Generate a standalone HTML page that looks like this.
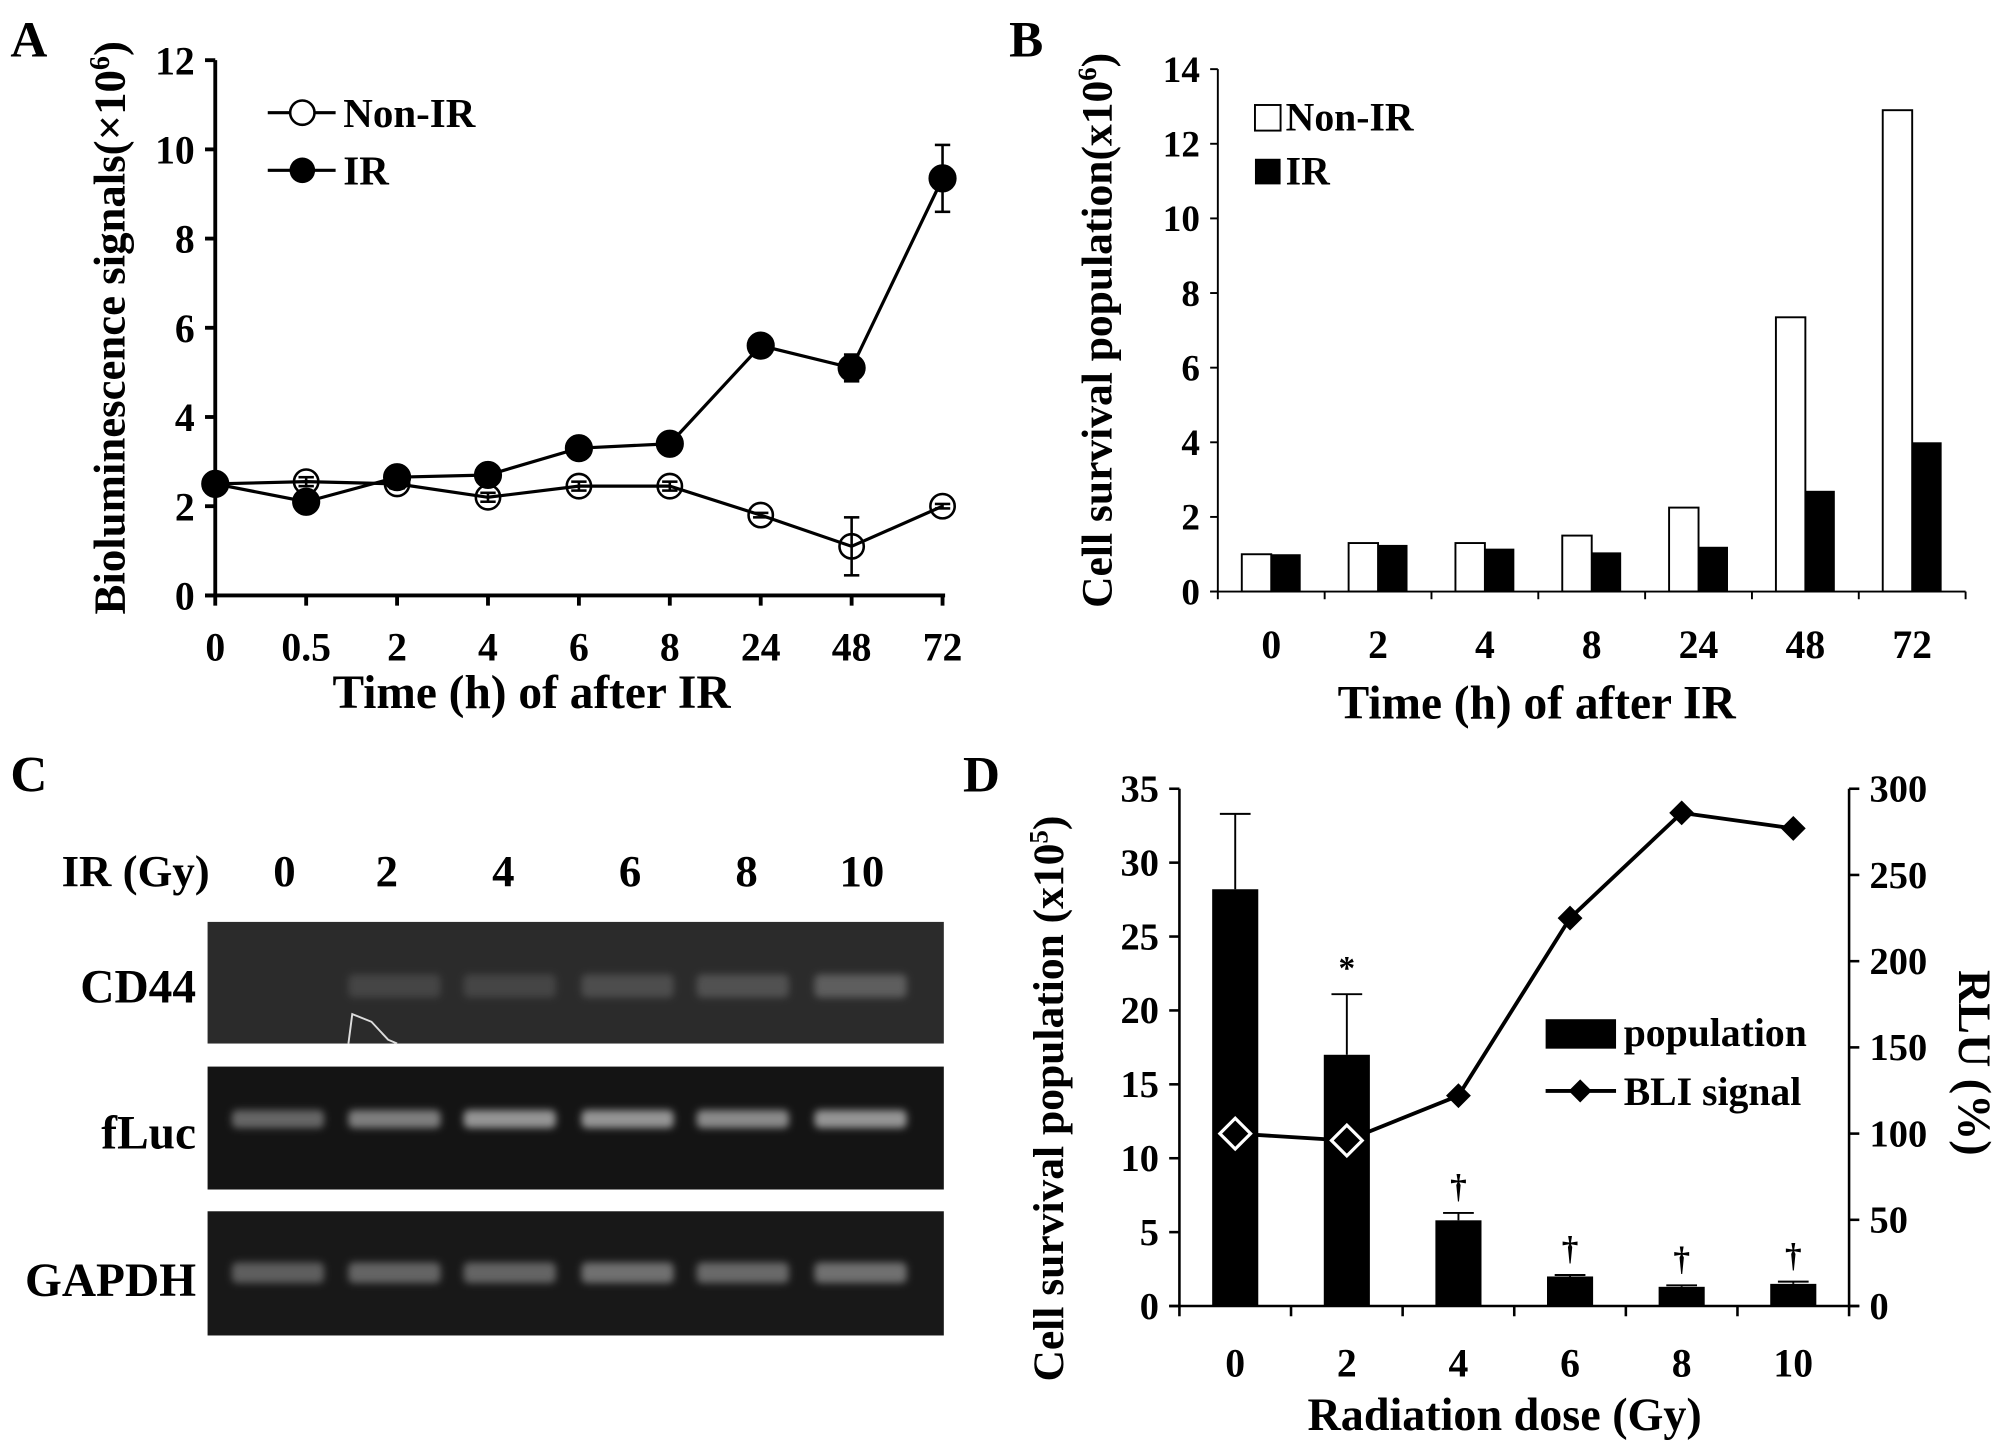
<!DOCTYPE html>
<html><head><meta charset="utf-8"><style>
html,body{margin:0;padding:0;background:#fff}
svg{display:block}
text{font-family:"Liberation Serif",serif;font-weight:bold;fill:#000}
</style></head><body>
<svg id="fig" width="2008" height="1452" viewBox="0 0 1568 1134" xmlns="http://www.w3.org/2000/svg">
<defs>
<filter id="blur" x="-30%" y="-80%" width="160%" height="260%"><feGaussianBlur stdDeviation="3"/></filter>
</defs>
<text x="8" y="44" font-size="40">A</text>
<text x="788" y="44" font-size="40">B</text>
<text x="8" y="618" font-size="40">C</text>
<text x="752" y="618" font-size="40">D</text>

<g>
<text x="48" y="692" font-size="35">IR (Gy)</text>
<text x="222" y="692" font-size="35" text-anchor="middle">0</text>
<text x="302" y="692" font-size="35" text-anchor="middle">2</text>
<text x="393" y="692" font-size="35" text-anchor="middle">4</text>
<text x="492" y="692" font-size="35" text-anchor="middle">6</text>
<text x="583" y="692" font-size="35" text-anchor="middle">8</text>
<text x="673" y="692" font-size="35" text-anchor="middle">10</text>
<text x="153" y="783" font-size="37" text-anchor="end">CD44</text>
<text x="153" y="897" font-size="37" text-anchor="end">fLuc</text>
<text x="153" y="1012" font-size="37" text-anchor="end">GAPDH</text>
<rect x="162" y="720" width="575" height="95" fill="#2b2b2b"/>
<rect x="162" y="833" width="575" height="96" fill="#141414"/>
<rect x="162" y="946" width="575" height="97" fill="#181818"/>
<g id="bands"></g>
</g>

<g id="chartA"></g>
<g id="chartB"></g>
<g id="chartD"></g>
</svg>
<script>
const NS="http://www.w3.org/2000/svg";
function mk(parent,tag,attrs){const e=document.createElementNS(NS,tag);for(const k in attrs)e.setAttribute(k,attrs[k]);parent.appendChild(e);return e;}
function txt(parent,x,y,s,size,anchor){const e=mk(parent,'text',{x:x,y:y,'font-size':size,'text-anchor':anchor||'middle'});e.textContent=s;return e;}

const aCategories=["0","0.5","2","4","6","8","24","48","72"];
const aNonIR=[2.5,2.55,2.5,2.2,2.45,2.45,1.8,1.1,2.0];
const aNonIRErr=[0.1,0.1,0.1,0.1,0.1,0.1,0.05,0.65,0.05];
const aIR=[2.5,2.1,2.65,2.7,3.3,3.4,5.6,5.1,9.35];
const aIRErr=[0,0,0,0,0,0,0,0.3,0.75];
const aYTicks=[0,2,4,6,8,10,12];

const bCategories=["0","2","4","8","24","48","72"];
const bNonIR=[1.0,1.3,1.3,1.5,2.25,7.35,12.9];
const bIR=[1.0,1.25,1.15,1.05,1.2,2.7,4.0];
const bYTicks=[0,2,4,6,8,10,12,14];

const cLanes=["0","2","4","6","8","10"];
const cCD44=[0.0,0.12,0.12,0.16,0.18,0.24];
const cFLuc=[0.35,0.45,0.55,0.55,0.5,0.55];
const cGAPDH=[0.3,0.33,0.33,0.38,0.35,0.38];

const dCategories=["0","2","4","6","8","10"];
const dPopulation=[28.2,17.0,5.8,2.0,1.3,1.5];
const dPopErr=[5.1,4.1,0.5,0.1,0.1,0.15];
const dBLI=[100,96,122,225,286,277];
const dMarks=["","*","†","†","†","†"];
const dLeftTicks=[0,5,10,15,20,25,30,35];
const dRightTicks=[0,50,100,150,200,250,300];

(function(){
const g=document.getElementById('chartA');
const x0=168,dx=71,y0=465,yTop=47,yMax=12;
const X=i=>x0+i*dx, Y=v=>y0-(y0-yTop)*v/yMax;
const ax=mk(g,'line',{x1:x0,y1:yTop,x2:x0,y2:y0,stroke:'#000','stroke-width':3});


const xa=mk(g,'line',{x1:x0-8,y1:y0,x2:X(8)+2,y2:y0,stroke:'#000','stroke-width':3});


aYTicks.forEach(v=>{
  mk(g,'line',{x1:x0-8,y1:Y(v),x2:x0,y2:Y(v),stroke:'#000','stroke-width':3});
  const t=txt(g,x0-16,Y(v)+11,String(v),31,'end');
  
  
});
aCategories.forEach((c,i)=>{
  mk(g,'line',{x1:X(i),y1:y0,x2:X(i),y2:y0+8,stroke:'#000','stroke-width':3});
  const t=txt(g,X(i),y0+51,c,31);
  
  
});
const xt=txt(g,415,553,"Time (h) of after IR",37);


const yt=txt(g,0,0,"Bioluminescence signals(×10",35);
const sup=document.createElementNS(NS,'tspan');sup.setAttribute('font-size','22');sup.setAttribute('dy','-12');sup.textContent='6';yt.appendChild(sup);
const cl=document.createElementNS(NS,'tspan');cl.setAttribute('dy','12');cl.textContent=')';yt.appendChild(cl);
yt.setAttribute('transform','translate(97,256) rotate(-90)');


function series(vals,errs,filled,name){
  const pts=vals.map((v,i)=>X(i)+','+Y(v)).join(' ');
  const l=mk(g,'polyline',{points:pts,fill:'none',stroke:'#000','stroke-width':2.5});
  
  
  vals.forEach((v,i)=>{
    if(errs[i]>0){mk(g,'line',{x1:X(i),y1:Y(v-errs[i]),x2:X(i),y2:Y(v+errs[i]),stroke:'#000','stroke-width':2});
      mk(g,'line',{x1:X(i)-6,y1:Y(v-errs[i]),x2:X(i)+6,y2:Y(v-errs[i]),stroke:'#000','stroke-width':2});
      mk(g,'line',{x1:X(i)-6,y1:Y(v+errs[i]),x2:X(i)+6,y2:Y(v+errs[i]),stroke:'#000','stroke-width':2});}
  });
  vals.forEach((v,i)=>{
    const c=mk(g,'circle',{cx:X(i),cy:Y(v),r:filled?10:9.5,fill:filled?'#000':'none',stroke:'#000','stroke-width':2});
    
    
  });
}
series(aNonIR,aNonIRErr,false,'a-non-ir');
series(aIR,aIRErr,true,'a-ir');
const l1=mk(g,'g',{});


mk(l1,'line',{x1:209,y1:88,x2:262,y2:88,stroke:'#000','stroke-width':2.5});
mk(l1,'circle',{cx:236,cy:88,r:9.5,fill:'#fff',stroke:'#000','stroke-width':2});
txt(l1,268,99,"Non-IR",32,'start');
const l2=mk(g,'g',{});


mk(l2,'line',{x1:209,y1:133,x2:262,y2:133,stroke:'#000','stroke-width':2.5});
mk(l2,'circle',{cx:236,cy:133,r:10,fill:'#000'});
txt(l2,268,144,"IR",32,'start');
})();

(function(){
const g=document.getElementById('chartB');
const x0=951,xEnd=1535,y0=462,yTop=54,yMax=14,n=bCategories.length;
const dx=(xEnd-x0)/n;
const C=i=>x0+dx*(i+0.5), Y=v=>y0-(y0-yTop)*v/yMax;
const bw=23;
bCategories.forEach((c,i)=>{
  const r1=mk(g,'rect',{x:C(i)-bw,y:Y(bNonIR[i]),width:bw,height:y0-Y(bNonIR[i]),fill:'#fff',stroke:'#000','stroke-width':1.5});
  
  
  const r2=mk(g,'rect',{x:C(i),y:Y(bIR[i]),width:bw,height:y0-Y(bIR[i]),fill:'#000'});
  
  
  const t=txt(g,C(i),y0+52,c,31);
  
  
});
const ax=mk(g,'line',{x1:x0,y1:yTop,x2:x0,y2:y0,stroke:'#000','stroke-width':1.5});


const xa=mk(g,'line',{x1:x0-6,y1:y0,x2:xEnd,y2:y0,stroke:'#000','stroke-width':1.5});


bYTicks.forEach(v=>{
  mk(g,'line',{x1:x0-6,y1:Y(v),x2:x0,y2:Y(v),stroke:'#000','stroke-width':1.5});
  const t=txt(g,x0-14,Y(v)+10,String(v),29,'end');
  
  
});
for(let i=0;i<=n;i++)mk(g,'line',{x1:x0+dx*i,y1:y0,x2:x0+dx*i,y2:y0+6,stroke:'#000','stroke-width':1.5});
const xt=txt(g,1200,561,"Time (h) of after IR",37);


const yt=txt(g,0,0,"Cell survival population(x10",34);
const sup=document.createElementNS(NS,'tspan');sup.setAttribute('font-size','21');sup.setAttribute('dy','-12');sup.textContent='6';yt.appendChild(sup);
const cl=document.createElementNS(NS,'tspan');cl.setAttribute('dy','12');cl.textContent=')';yt.appendChild(cl);
yt.setAttribute('transform','translate(868,258) rotate(-90)');


const l1=mk(g,'g',{});


mk(l1,'rect',{x:980,y:82,width:20,height:20,fill:'#fff',stroke:'#000','stroke-width':1.5});
txt(l1,1004,102,"Non-IR",31,'start');
const l2=mk(g,'g',{});


mk(l2,'rect',{x:980,y:124,width:20,height:20,fill:'#000'});
txt(l2,1004,144,"IR",31,'start');
})();

(function(){
const g=document.getElementById('bands');
const centers=[217,308,398,490,580,672];
const rows=[[cCD44,770,'cd44',18],[cFLuc,874,'fluc',14],[cGAPDH,994,'gapdh',16]];
rows.forEach(r=>{
  r[0].forEach((v,i)=>{
    const cx=centers[i];
    const b=mk(g,'rect',{x:cx-36,y:r[1]-r[3]/2,width:72,height:r[3],rx:4,fill:'#fff','fill-opacity':v,filter:'url(#blur)'});
    
    
  });
});
const s=mk(g,'path',{d:'M272 815 L275 792 L290 798 L303 812 L310 815',fill:'none',stroke:'#ddd','stroke-width':1.5});


})();

(function(){
const g=document.getElementById('chartD');
const x0=921,xEnd=1444,y0=1020,yTop=616,lMax=35,rMax=300,n=dCategories.length;
const dx=(xEnd-x0)/n;
const C=i=>x0+dx*(i+0.5), YL=v=>y0-(y0-yTop)*v/lMax, YR=v=>y0-(y0-yTop)*v/rMax;
const bw=36;
dCategories.forEach((c,i)=>{
  const top=YL(dPopulation[i]+dPopErr[i]);
  mk(g,'line',{x1:C(i),y1:YL(dPopulation[i]),x2:C(i),y2:top,stroke:'#000','stroke-width':1.5});
  mk(g,'line',{x1:C(i)-12,y1:top,x2:C(i)+12,y2:top,stroke:'#000','stroke-width':1.5});
  const r=mk(g,'rect',{x:C(i)-bw/2,y:YL(dPopulation[i]),width:bw,height:y0-YL(dPopulation[i]),fill:'#000'});
  
  
  if(dMarks[i]){const m=txt(g,C(i),top-12,dMarks[i],26);
    
    }
  const t=txt(g,C(i),y0+55,c,31);
  
  
});
const la=mk(g,'line',{x1:x0,y1:yTop,x2:x0,y2:y0,stroke:'#000','stroke-width':2});


const ra=mk(g,'line',{x1:xEnd,y1:yTop,x2:xEnd,y2:y0,stroke:'#000','stroke-width':2});


const xa=mk(g,'line',{x1:x0-8,y1:y0,x2:xEnd+8,y2:y0,stroke:'#000','stroke-width':2});


for(let i=0;i<=n;i++)mk(g,'line',{x1:x0+dx*i,y1:y0,x2:x0+dx*i,y2:y0+8,stroke:'#000','stroke-width':2});
dLeftTicks.forEach(v=>{
  mk(g,'line',{x1:x0-8,y1:YL(v),x2:x0,y2:YL(v),stroke:'#000','stroke-width':2});
  const t=txt(g,x0-16,YL(v)+10,String(v),30,'end');
  
  
});
dRightTicks.forEach(v=>{
  mk(g,'line',{x1:xEnd,y1:YR(v),x2:xEnd+8,y2:YR(v),stroke:'#000','stroke-width':2});
  const t=txt(g,xEnd+16,YR(v)+10,String(v),30,'start');
  
  
});
const pts=dBLI.map((v,i)=>C(i)+','+YR(v)).join(' ');
const l=mk(g,'polyline',{points:pts,fill:'none',stroke:'#000','stroke-width':3});


dBLI.forEach((v,i)=>{
  const onBar=YR(v)>YL(dPopulation[i]);
  const s=onBar?12:9;
  const d=mk(g,'polygon',{points:`${C(i)},${YR(v)-s} ${C(i)+s},${YR(v)} ${C(i)},${YR(v)+s} ${C(i)-s},${YR(v)}`,fill:'#000',stroke:onBar?'#fff':'#000','stroke-width':onBar?2.5:1});
  
  
});
const xt=txt(g,1175,1117,"Radiation dose (Gy)",36);


const yt=txt(g,0,0,"Cell survival population (x10",34);
const sup=document.createElementNS(NS,'tspan');sup.setAttribute('font-size','21');sup.setAttribute('dy','-12');sup.textContent='5';yt.appendChild(sup);
const cl=document.createElementNS(NS,'tspan');cl.setAttribute('dy','12');cl.textContent=')';yt.appendChild(cl);
yt.setAttribute('transform','translate(830,858) rotate(-90)');


const rt=txt(g,0,0,"RLU (%)",36);
rt.setAttribute('transform','translate(1530,830) rotate(90)');


const l1=mk(g,'g',{});


mk(l1,'rect',{x:1207,y:796,width:55,height:23,fill:'#000'});
txt(l1,1268,817,"population",31,'start');
const l2=mk(g,'g',{});


mk(l2,'line',{x1:1207,y1:852,x2:1262,y2:852,stroke:'#000','stroke-width':3});
mk(l2,'polygon',{points:'1234,843 1243,852 1234,861 1225,852',fill:'#000'});
txt(l2,1268,863,"BLI signal",31,'start');
})();
</script>
</body></html>
